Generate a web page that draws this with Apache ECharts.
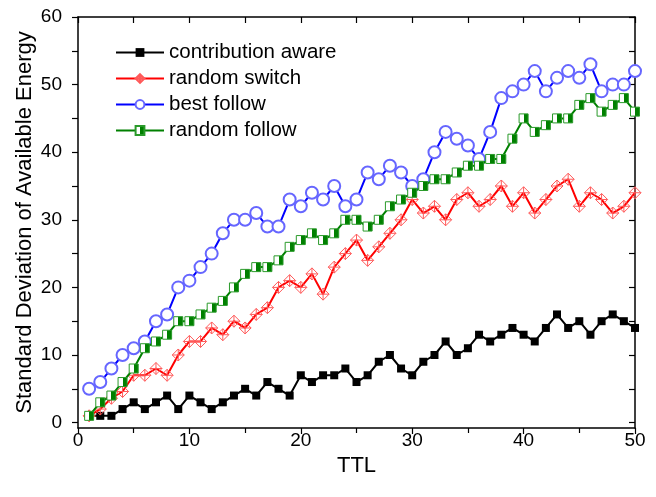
<!DOCTYPE html>
<html>
<head>
<meta charset="utf-8">
<script src="https://cdn.jsdelivr.net/npm/echarts@6/dist/echarts.min.js"></script>
<style>
  html, body { margin: 0; padding: 0; background: #fff; }
  #main { width: 656px; height: 497px; }
</style>
</head>
<body>
<div id="main"></div>
<script>
// data
const ttl = [1, 2, 3, 4, 5, 6, 7, 8, 9, 10, 11, 12, 13, 14, 15, 16, 17, 18, 19, 20,
  21, 22, 23, 24, 25, 26, 27, 28, 29, 30, 31, 32, 33, 34, 35, 36, 37, 38, 39, 40,
  41, 42, 43, 44, 45, 46, 47, 48, 49, 50];

const contributionAware = [1, 1, 1, 2, 3, 2, 3, 4, 2, 4, 3, 2, 3, 4, 5, 4, 6, 5, 4, 7,
  6, 7, 7, 8, 6, 7, 9, 10, 8, 7, 9, 10, 12, 10, 11, 13, 12, 13, 14, 13,
  12, 14, 16, 14, 15, 13, 15, 16, 15, 14];

const randomSwitch = [1, 2, 3.6, 4.6, 7, 7, 8, 7, 10, 12, 12, 14, 13, 15, 14, 16, 17, 20, 21, 20,
  22, 19, 23, 25, 27, 24, 26, 28, 30, 33, 31, 32, 30, 33, 34, 32, 33, 35, 32, 34,
  31, 33, 35, 36, 32, 34, 33, 31, 32, 34];

const bestFollow = [5, 6, 8, 10, 11, 12, 15, 16, 20, 21, 23, 25, 28, 30, 30, 31, 29, 29, 33, 32,
  34, 33, 35, 32, 33, 37, 36, 38, 37, 35, 36, 40, 43, 42, 41, 39, 43, 48, 49, 50,
  52, 49, 51, 52, 51, 53, 49, 50, 50, 52];

const randomFollow = [1, 3, 4, 6, 8, 11, 12, 13, 15, 15, 16, 17, 18, 20, 22, 23, 23, 24, 26, 27,
  28, 27, 28, 30, 30, 29, 30, 32, 33, 34, 35, 36, 36, 37, 38, 38, 39, 39, 42, 45,
  43, 44, 45, 45, 47, 48, 46, 47, 48, 46];

const yTicks = [0, 10, 20, 30, 40, 50, 60];
const yTicksAll = [0, 5, 10, 15, 20, 25, 30, 35, 40, 45, 50, 55, 60];

const font = 'Liberation Sans, Arial, sans-serif';

function pairs(vals) {
  return vals.map((v, i) => [ttl[i], v]);
}

const chart = echarts.init(document.getElementById('main'));

const greenFill = new echarts.graphic.LinearGradient(0, 0, 1, 0, [
  { offset: 0, color: '#ffffff' },
  { offset: 0.5, color: '#ffffff' },
  { offset: 0.5, color: '#008000' },
  { offset: 1, color: '#008000' }
]);

const axisLineStyle = { color: '#000', width: 1.5 };
const tickStyle = { color: '#000', width: 1.2 };

const option = {
  animation: false,
  backgroundColor: '#fff',
  textStyle: { fontFamily: font, color: '#000' },
  grid: { left: 78, right: 21, top: 17, bottom: 69 },
  legend: {
    orient: 'vertical',
    left: 110,
    top: 37,
    itemWidth: 48,
    itemHeight: 11,
    itemGap: 5,
    textStyle: { fontSize: 20.5, color: '#000', fontFamily: font },
    data: ['contribution aware', 'random switch', 'best follow', 'random follow']
  },
  xAxis: [{
    type: 'value',
    min: 0,
    max: 50,
    interval: 10,
    name: 'TTL',
    nameLocation: 'middle',
    nameGap: 23,
    nameTextStyle: { fontSize: 22, color: '#000' },
    axisLine: { onZero: false, lineStyle: axisLineStyle },
    axisTick: { show: true, inside: false, length: 6, lineStyle: tickStyle },
    minorTick: { show: true, splitNumber: 2, length: 5, lineStyle: tickStyle },
    axisLabel: { fontSize: 19, color: '#000', margin: 3 },
    splitLine: { show: false }
  }, {
    type: 'value',
    position: 'top',
    min: 0,
    max: 50,
    interval: 5,
    axisLine: { onZero: false, lineStyle: axisLineStyle },
    axisTick: { show: true, inside: true, length: 6, lineStyle: tickStyle },
    axisLabel: { show: false },
    splitLine: { show: false }
  }],
  yAxis: [{
    type: 'value',
    min: -0.8,
    max: 60,
    name: 'Standard Deviation of Available Energy',
    nameLocation: 'middle',
    nameGap: 42,
    nameMoveOverlap: false,
    nameTextStyle: { fontSize: 22, color: '#000' },
    axisLine: { show: true, onZero: false, lineStyle: axisLineStyle },
    axisTick: { show: true, inside: false, length: 6, customValues: yTicksAll, lineStyle: tickStyle },
    axisLabel: { fontSize: 19, color: '#000', margin: 16, customValues: yTicks },
    splitLine: { show: false }
  }, {
    type: 'value',
    position: 'right',
    min: -0.8,
    max: 60,
    axisLine: { show: true, onZero: false, lineStyle: axisLineStyle },
    axisTick: { show: true, inside: true, length: 6, customValues: yTicksAll, lineStyle: tickStyle },
    axisLabel: { show: false },
    splitLine: { show: false }
  }],
  series: [{
    name: 'contribution aware',
    type: 'line',
    data: pairs(contributionAware),
    symbol: 'rect',
    symbolSize: 8,
    itemStyle: { color: '#000' },
    lineStyle: { color: '#000', width: 2 },
    z: 2
  }, {
    name: 'random switch',
    type: 'line',
    data: pairs(randomSwitch),
    symbol: 'path://M0,-10L10,0L0,10L-10,0Z M0,-10L0,10 M-10,0L10,0',
    symbolSize: 12,
    itemStyle: { color: 'rgba(255,255,255,0)', borderColor: '#ff5a5a', borderWidth: 1 },
    lineStyle: { color: '#ff0000', width: 2 },
    z: 3
  }, {
    name: 'best follow',
    type: 'line',
    data: pairs(bestFollow),
    symbol: 'emptyCircle',
    symbolSize: 12,
    itemStyle: { color: '#6666ff', borderColor: '#6666ff', borderWidth: 1 },
    lineStyle: { color: '#0000ff', width: 2 },
    z: 4
  }, {
    name: 'random follow',
    type: 'line',
    data: pairs(randomFollow),
    symbol: 'rect',
    symbolSize: 9,
    itemStyle: { color: greenFill, borderColor: '#2a9a2a', borderWidth: 1 },
    lineStyle: { color: '#008000', width: 2 },
    z: 5
  }]
};

chart.setOption(option);
</script>
</body>
</html>
